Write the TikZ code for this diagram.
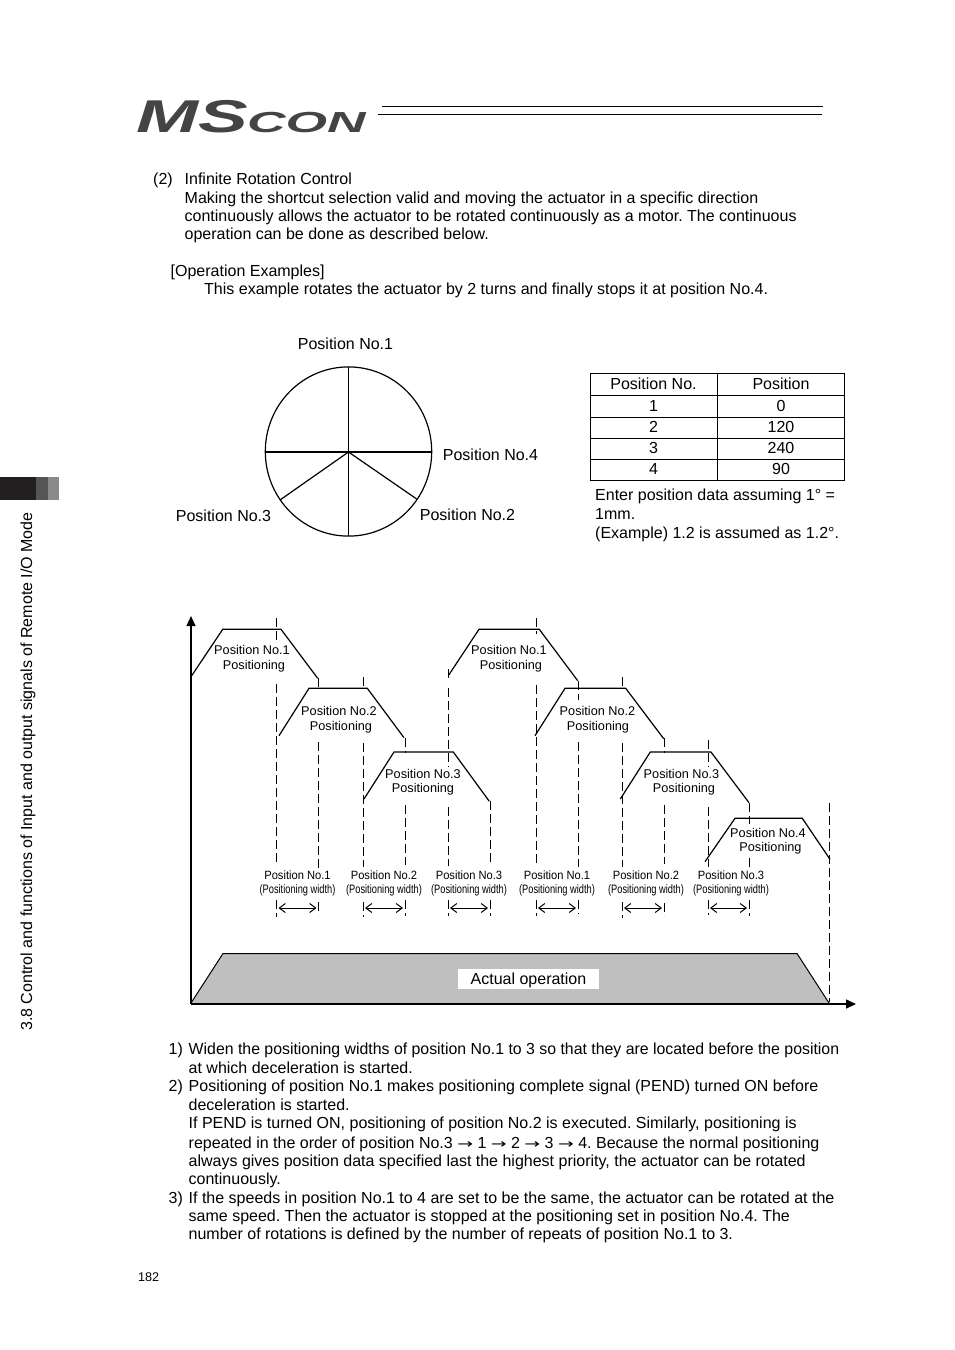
\documentclass[tikz,border=0pt]{standalone}
\usepackage{fontspec}
\usepackage{graphicx}
\setmainfont{Liberation Sans}
\newfontfamily\arrfont{DejaVu Sans}
\usetikzlibrary{arrows.meta}
\definecolor{tabdark}{HTML}{231F20}
\definecolor{tabmid}{HTML}{555555}
\definecolor{tablight}{HTML}{8A8A8A}
\definecolor{logogray}{HTML}{444444}
\tikzset{
  body/.style={anchor=base west,inner sep=0pt,font=\fontsize{16}{18}\selectfont},
  ctext/.style={anchor=base,inner sep=0pt,font=\fontsize{16}{18}\selectfont},
  lab/.style={anchor=base,inner sep=0pt,font=\fontsize{12.7}{15}\selectfont},
  cond/.style={anchor=base,inner sep=0pt,font=\fontsize{12.2}{15}\selectfont},
  ln/.style={line width=1.2pt,black},
  trap/.style={line width=1.2pt,black,line join=miter},
  dsh/.style={line width=0.9pt,black,dash pattern=on 9pt off 4pt},
  span/.style={line width=1pt,black,{Straight Barb[length=6pt,width=9pt]}-{Straight Barb[length=6pt,width=9pt]}},
}
\newcommand{\cw}[1]{\scalebox{0.76}[1]{#1}}
\newcommand{\arr}{\scalebox{1.45}[1]{\arrfont\fontsize{13}{15}\selectfont →}}
\frenchspacing
\begin{document}
\begin{tikzpicture}[x=1pt,y=-1pt]
\useasboundingbox (0,0) rectangle (954,1350);
\fill[white] (0,0) rectangle (954,1350);
% logo
\node[anchor=base west,inner sep=0pt,text=logogray] (logoMS) at (136,132.5) {\scalebox{1.62}[1]{\fontsize{46}{46}\selectfont\bfseries\itshape MS}};
\node[anchor=base west,inner sep=0pt,text=logogray] (logoCON) at (247,132.5) {\scalebox{1.84}[1]{\fontsize{29}{29}\selectfont\bfseries\itshape CON}};
\draw[line width=1pt] (382,106.5) -- (823,106.5);
\draw[line width=1pt] (378,114.5) -- (822,114.5);
% side tab
\fill[tabdark] (0,477) rectangle (36,500);
\fill[tabmid] (36,477) rectangle (48,500);
\fill[tablight] (48,477) rectangle (59,500);
\node[rotate=90,anchor=base west,inner sep=0pt,font=\fontsize{16}{18}\selectfont] (side) at (32,1031) {3.8 Control and functions of Input and output signals of Remote I/O Mode};
% top text
\node[body] (t1a) at (153,184) {(2)};
\node[body] (t1) at (184.5,184) {Infinite Rotation Control};
\node[body] (t2) at (184.5,203) {Making the shortcut selection valid and moving the actuator in a specific direction};
\node[body] (t3) at (184.5,221) {continuously allows the actuator to be rotated continuously as a motor. The continuous};
\node[body] (t4) at (184.5,239) {operation can be done as described below.};
\node[body] (t5) at (170.5,276) {[Operation Examples]};
\node[body] (t6) at (204,294) {This example rotates the actuator by 2 turns and finally stops it at position No.4.};
% circle
\draw[ln] (348.5,451.5) ellipse (83.2 and 84.6);
\coordinate (cc) at (348.5,452);
\coordinate (ct) at (348.5,367);
\coordinate (cb) at (348.5,536);
\coordinate (cl) at (265.5,452);
\coordinate (cr) at (431.5,452);
\coordinate (cs1) at (280,500);
\coordinate (cs2) at (416.7,499);
\draw[ln] (ct) -- (cb);
\draw[ln] (cl) -- (cr);
\draw[ln] (cs1) -- (cc) -- (cs2);
\node[ctext] (p1) at (345.5,349) {Position No.1};
\node[ctext] (p4) at (490.5,460) {Position No.4};
\node[ctext] (p3) at (223.5,521) {Position No.3};
\node[ctext] (p2) at (467.5,520) {Position No.2};
% table
\draw[line width=1pt] (590.5,373.5) rectangle (844.5,480);
\draw[line width=1pt] (717.5,373.5) -- (717.5,480);
\foreach \yy in {395,417,438,459} \draw[line width=1pt] (590.5,\yy) -- (844.5,\yy);
\node[ctext] (th1) at (653.5,389) {Position No.};
\node[ctext] (th2) at (781,389) {Position};
\node[ctext] (r1a) at (653.5,411) {1};
\node[ctext] (r1b) at (781,411) {0};
\node[ctext] (r2a) at (653.5,432.5) {2};
\node[ctext] (r2b) at (781,432.5) {120};
\node[ctext] (r3a) at (653.5,453.5) {3};
\node[ctext] (r3b) at (781,453.5) {240};
\node[ctext] (r4a) at (653.5,474.5) {4};
\node[ctext] (r4b) at (781,474.5) {90};
\node[body] (n1) at (595,500) {Enter position data assuming 1° =};
\node[body] (n2) at (595,519) {1mm.};
\node[body] (n3) at (595,538) {(Example) 1.2 is assumed as 1.2°.};
% actual operation
\fill[black!25] (191,1003) -- (223,953.5) -- (797,953.5) -- (829,1003) -- cycle;
\draw[line width=1pt] (191,1003) -- (223,953.5) -- (797,953.5) -- (829,1003);
\fill[white] (458,969) rectangle (599,989);
\node[ctext] (act) at (528.5,984.5) {Actual operation};
% axes
\coordinate (o) at (191,1004);
\coordinate (ay) at (191,616);
\coordinate (ax) at (856,1004);
\draw[line width=1.1pt,-{Triangle[length=10pt,width=9pt]}] (o) -- (ay);
\draw[line width=1.6pt,-{Triangle[length=10pt,width=9pt]}] (o) -- (ax);
% dashed lines
\foreach \xx/\ya/\yb in {
 276.5/618/641, 276.5/684/866, 276.5/900/917,
 318.5/678/689, 318.5/742/868, 318.5/902/915,
 363/677/689, 363/743/867, 363/902/917,
 405/738/753, 405/805/865, 405/900/916,
 448/669/678, 448/688/767, 448/807/866, 448/900/916,
 490/801/866, 490/900/916,
 536/618/634, 536/685/865, 536/900/916,
 578/681/700, 578/742/867, 578/900/914,
 622/677/689, 622/743/867, 622/902/918,
 664/738/753, 664/805/864, 664/903/916,
 708/740/767, 708/807/867, 708/900/915,
 749/803/824, 749/858/867, 749/900/916,
 829.5/803/1002}
 \draw[dsh] (\xx,\ya) -- (\xx,\yb);
% trapezoids
\draw[trap] (191.7,675.7) -- (222.7,629.3) -- (281,629.3) -- (317.7,678.3);
\draw[trap] (279,735.7) -- (309,688.3) -- (367.3,688.3) -- (404,737.7);
\draw[trap] (364,799) -- (394,752) -- (453.3,752) -- (489.3,801.3);
\draw[trap] (448.3,675.7) -- (479,629.3) -- (539.3,629.3) -- (577.7,680.7);
\draw[trap] (535,735.7) -- (565,688.3) -- (625.7,688.3) -- (663.7,738.7);
\draw[trap] (620.3,799) -- (650.3,752) -- (711,752) -- (749,802.7);
\draw[trap] (705,861.7) -- (735,818.3) -- (802.3,818.3) -- (830,859.3);
% trapezoid labels
\node[lab] (a1) at (252,654) {Position No.1};
\node[lab] (a2) at (254,669) {Positioning};
\node[lab] (b1) at (339,715) {Position No.2};
\node[lab] (b2) at (341,730) {Positioning};
\node[lab] (c1) at (423,778) {Position No.3};
\node[lab] (c2) at (423,792.5) {Positioning};
\node[lab] (d1) at (509,654) {Position No.1};
\node[lab] (d2) at (511,669) {Positioning};
\node[lab] (e1) at (597.5,715) {Position No.2};
\node[lab] (e2) at (598,730) {Positioning};
\node[lab] (f1) at (681.5,778) {Position No.3};
\node[lab] (f2) at (684,792.5) {Positioning};
\node[lab] (g1) at (768,837) {Position No.4};
\node[lab] (g2) at (770.5,851.5) {Positioning};
% width labels
\foreach \nm/\cx/\tx in {h/297.5/Position No.1, i/384/Position No.2, j/469/Position No.3, k/557/Position No.1, l/646/Position No.2, m/731/Position No.3}{
 \node[anchor=base,inner sep=0pt,font=\fontsize{12}{15}\selectfont] (\nm1) at (\cx,879) {\scalebox{0.93}[1]{\tx}};
 \node[cond] (\nm2) at (\cx,893) {\cw{(Positioning width)}};
}
% spans
\foreach \nm/\xa/\xb in {s1/276.5/318.5,s2/363/405,s3/448/490,s4/536/578,s5/622/664,s6/708/749}{
 \coordinate (\nm a) at (\xa,908);
 \coordinate (\nm b) at (\xb,908);
 \draw[span] ([xshift=2pt]\nm a) -- ([xshift=-2pt]\nm b);
}
% bottom text
\node[body] (q1n) at (168.5,1054) {1)};
\node[body] (q1) at (188.5,1054) {\scalebox{0.991}[1]{Widen the positioning widths of position No.1 to 3 so that they are located before the position}};
\node[body] (q1b) at (188.5,1073) {at which deceleration is started.};
\node[body] (q2n) at (168.5,1091) {2)};
\node[body] (q2) at (188.5,1091) {Positioning of position No.1 makes positioning complete signal (PEND) turned ON before};
\node[body] (q2b) at (188.5,1110) {deceleration is started.};
\node[body] (q2c) at (188.5,1128) {If PEND is turned ON, positioning of position No.2 is executed. Similarly, positioning is};
\node[body] (q2d) at (188.5,1148) {repeated in the order of position No.3 \arr\ 1 \arr\ 2 \arr\ 3 \arr\ 4. Because the normal positioning};
\node[body] (q2e) at (188.5,1166) {always gives position data specified last the highest priority, the actuator can be rotated};
\node[body] (q2f) at (188.5,1184) {continuously.};
\node[body] (q3n) at (168.5,1203) {3)};
\node[body] (q3) at (188.5,1203) {If the speeds in position No.1 to 4 are set to be the same, the actuator can be rotated at the};
\node[body] (q3b) at (188.5,1221) {same speed. Then the actuator is stopped at the positioning set in position No.4. The};
\node[body] (q3c) at (188.5,1239) {number of rotations is defined by the number of repeats of position No.1 to 3.};
\node[anchor=base west,inner sep=0pt,font=\fontsize{12.6}{15}\selectfont] (pg) at (138,1281) {182};
\end{tikzpicture}
\end{document}
